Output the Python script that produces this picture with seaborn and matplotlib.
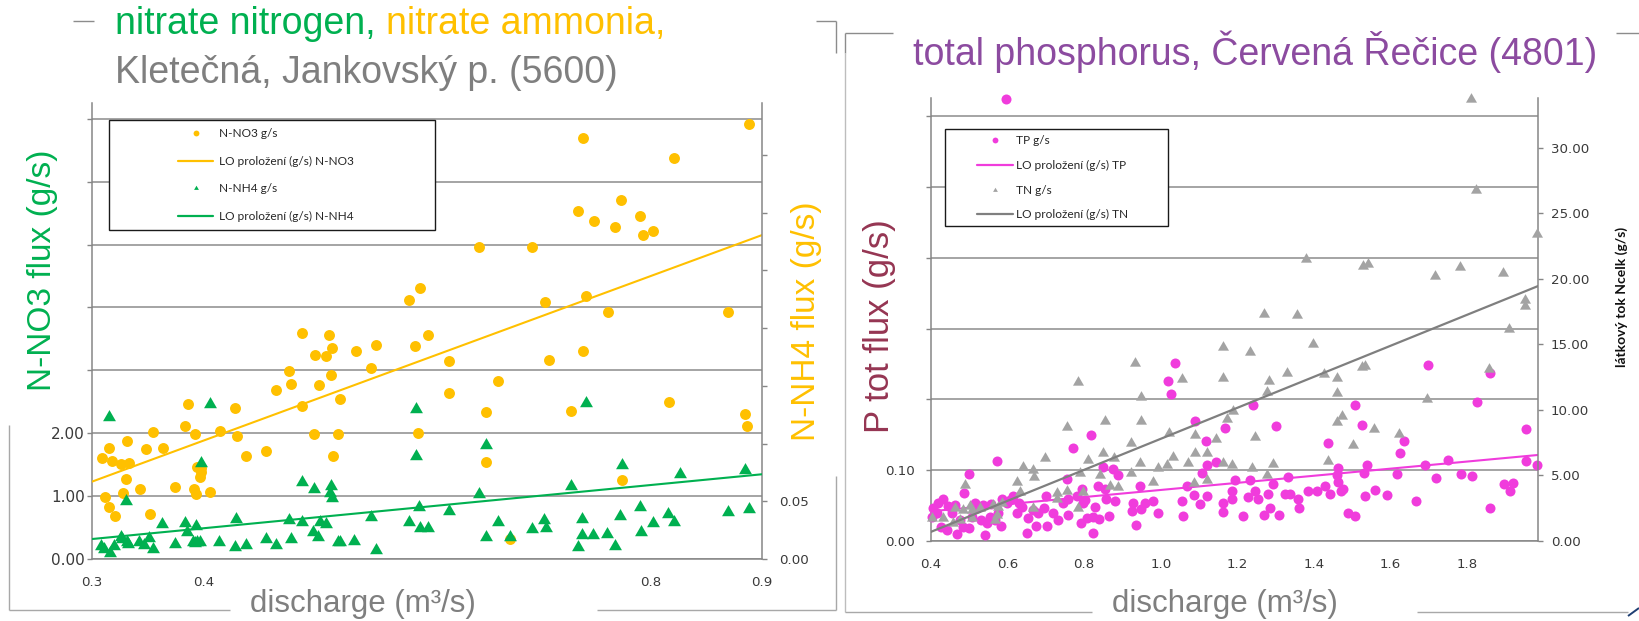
import numpy as np
import matplotlib
matplotlib.use("Agg")
import matplotlib.pyplot as plt
from matplotlib.lines import Line2D
from matplotlib.patches import Rectangle
import seaborn as sns

# ---------------- Kletečná, Jankovský p. (5600) ----------------
no3_q = [0.309, 0.315, 0.318, 0.326, 0.331, 0.333, 0.330, 0.312, 0.315, 0.321,
         0.328, 0.343, 0.348, 0.352, 0.355, 0.364, 0.383, 0.386, 0.374, 0.392,
         0.391, 0.393, 0.394, 0.398, 0.397, 0.398, 0.406, 0.415, 0.428, 0.430,
         0.438, 0.456, 0.465, 0.476, 0.478, 0.488, 0.499, 0.500, 0.503, 0.510,
         0.514, 0.515, 0.520, 0.516, 0.522, 0.536, 0.550, 0.554, 0.589, 0.592,
         0.620, 0.620, 0.664, 0.653, 0.653, 0.709, 0.740, 0.729, 0.674, 0.817,
         0.885, 0.887, 0.775, 0.888, 0.740, 0.821, 0.735, 0.750, 0.774, 0.768,
         0.791, 0.793, 0.802, 0.647, 0.694, 0.584, 0.594, 0.706, 0.742, 0.762,
         0.870, 0.601, 0.488, 0.512]
no3_flux = [1.60, 1.76, 1.56, 1.51, 1.87, 1.53, 1.27, 0.99, 0.82, 0.69,
            1.05, 1.11, 1.75, 0.72, 2.02, 1.76, 2.12, 2.46, 1.15, 1.98,
            1.12, 1.03, 1.46, 1.45, 1.31, 1.39, 1.07, 2.04, 2.40, 1.96,
            1.64, 1.72, 2.69, 2.99, 2.79, 2.44, 1.98, 3.25, 2.76, 3.23,
            2.92, 3.35, 1.98, 1.63, 2.54, 3.31, 3.03, 3.40, 3.38, 2.00,
            3.15, 2.64, 2.83, 2.34, 1.54, 3.17, 3.31, 2.36, 0.32, 2.49,
            2.30, 2.12, 1.25, 6.92, 6.70, 6.38, 5.54, 5.38, 5.71, 5.28,
            5.46, 5.15, 5.21, 4.96, 4.96, 4.12, 4.31, 4.08, 4.18, 3.92,
            3.92, 3.56, 3.59, 3.56]

nh4_q = [0.315, 0.308, 0.311, 0.316, 0.320, 0.326, 0.327, 0.330, 0.331, 0.332,
         0.342, 0.347, 0.351, 0.355, 0.363, 0.374, 0.383, 0.385, 0.393, 0.390,
         0.392, 0.394, 0.397, 0.398, 0.406, 0.414, 0.429, 0.428, 0.438, 0.456,
         0.465, 0.476, 0.478, 0.488, 0.488, 0.499, 0.498, 0.502, 0.504, 0.510,
         0.514, 0.513, 0.515, 0.520, 0.522, 0.535, 0.550, 0.554, 0.590, 0.590,
         0.593, 0.584, 0.594, 0.601, 0.620, 0.647, 0.653, 0.653, 0.664, 0.674,
         0.694, 0.705, 0.707, 0.729, 0.735, 0.739, 0.739, 0.749, 0.742, 0.761,
         0.768, 0.773, 0.775, 0.791, 0.792, 0.802, 0.816, 0.821, 0.827, 0.870,
         0.885, 0.888]
nh4_flux = [0.123, 0.011, 0.009, 0.005, 0.011, 0.019, 0.017, 0.050, 0.015, 0.013,
            0.015, 0.012, 0.018, 0.009, 0.030, 0.013, 0.031, 0.023, 0.029, 0.015,
            0.014, 0.015, 0.0145, 0.083, 0.134, 0.015, 0.035, 0.010, 0.012, 0.017,
            0.012, 0.034, 0.017, 0.032, 0.067, 0.061, 0.023, 0.019, 0.032, 0.030,
            0.063, 0.057, 0.053, 0.0145, 0.0145, 0.016, 0.036, 0.008, 0.130, 0.089,
            0.045, 0.032, 0.027, 0.027, 0.042, 0.056, 0.099, 0.019, 0.032, 0.019,
            0.026, 0.034, 0.027, 0.063, 0.010, 0.035, 0.021, 0.021, 0.135, 0.022,
            0.011, 0.037, 0.081, 0.045, 0.023, 0.031, 0.039, 0.032, 0.074, 0.041,
            0.077, 0.043]

no3_trend_q = [0.3, 0.9]
no3_trend = [1.23, 5.15]
nh4_trend_q = [0.3, 0.9]
nh4_trend = [0.0173, 0.0734]

# tick positions and the labels left readable on the slide
left_x_ticks = [0.3, 0.4, 0.5, 0.6, 0.7, 0.8, 0.9]
left_x_labels = ["0.3", "0.4", "", "", "", "0.8", "0.9"]
no3_ticks = [0, 1, 2, 3, 4, 5, 6, 7]
no3_labels = ["0.00", "1.00", "2.00", "", "", "", "", ""]
nh4_ticks = [0, 0.05, 0.10, 0.15, 0.20, 0.25, 0.30, 0.35]
nh4_labels = ["0.00", "0.05", "", "", "", "", "", ""]

# ---------------- Červená Řečice (4801) ----------------
tp_q = [0.596, 1.037, 1.020, 1.026, 1.089, 1.168, 1.117, 0.818, 0.770, 0.573,
        0.500, 0.487, 1.144, 1.120, 1.107, 0.754, 0.887, 0.874, 0.850, 0.946,
        0.835, 0.854, 1.068, 1.087, 1.102, 1.120, 1.194, 1.185, 1.055, 1.057,
        0.993, 0.980, 0.959, 0.948, 0.928, 0.924, 0.935, 0.864, 0.857, 0.880,
        0.828, 0.824, 0.839, 0.822, 0.798, 0.802, 0.793, 0.780, 0.791, 0.807,
        0.758, 0.745, 0.758, 0.732, 0.719, 0.700, 0.702, 0.680, 0.674, 0.667,
        0.652, 0.650, 0.637, 0.631, 0.613, 0.606, 0.585, 0.583, 0.567, 0.554,
        0.541, 0.545, 0.530, 0.519, 0.515, 0.506, 0.500, 0.484, 0.476, 0.467,
        0.463, 0.454, 0.441, 0.431, 0.425, 0.415, 0.406, 0.402, 0.419, 0.445,
        0.556, 0.537, 0.576, 0.598, 0.624, 0.696,
        1.507, 1.698, 1.825, 1.860, 1.242, 1.301, 1.437, 1.525, 1.625, 1.636,
        1.954, 1.954, 1.982, 1.751, 1.690, 1.616, 1.719, 1.783, 1.812, 1.538,
        1.531, 1.463, 1.461, 1.463, 1.475, 1.470, 1.429, 1.442, 1.407, 1.385,
        1.359, 1.362, 1.337, 1.324, 1.331, 1.292, 1.281, 1.285, 1.270, 1.309,
        1.233, 1.246, 1.255, 1.228, 1.214, 1.185, 1.163, 1.163, 1.533, 1.559,
        1.590, 1.666, 1.490, 1.507, 1.860, 1.897, 1.919, 1.912]
tp_flux = [0.624, 0.252, 0.226, 0.208, 0.169, 0.159, 0.141, 0.150, 0.132, 0.113,
           0.095, 0.068, 0.111, 0.107, 0.096, 0.087, 0.093, 0.101, 0.105, 0.078,
           0.078, 0.074, 0.077, 0.065, 0.052, 0.063, 0.086, 0.070, 0.057, 0.035,
           0.039, 0.056, 0.053, 0.045, 0.054, 0.043, 0.023, 0.035, 0.059, 0.057,
           0.048, 0.034, 0.031, 0.012, 0.053, 0.058, 0.073, 0.063, 0.025, 0.033,
           0.060, 0.053, 0.037, 0.030, 0.039, 0.064, 0.021, 0.039, 0.021, 0.044,
           0.032, 0.012, 0.048, 0.053, 0.064, 0.058, 0.060, 0.021, 0.030, 0.034,
           0.008, 0.026, 0.030, 0.046, 0.053, 0.034, 0.019, 0.020, 0.030, 0.010,
           0.051, 0.039, 0.015, 0.059, 0.020, 0.039, 0.046, 0.034, 0.053, 0.049,
           0.052, 0.051, 0.039, 0.053, 0.040, 0.046,
           0.192, 0.249, 0.196, 0.237, 0.192, 0.162, 0.139, 0.164, 0.124, 0.141,
           0.158, 0.113, 0.107, 0.115, 0.107, 0.094, 0.089, 0.094, 0.092, 0.107,
           0.096, 0.103, 0.093, 0.084, 0.074, 0.070, 0.077, 0.066, 0.071, 0.071,
           0.059, 0.046, 0.066, 0.066, 0.091, 0.081, 0.066, 0.046, 0.037, 0.037,
           0.086, 0.070, 0.059, 0.062, 0.035, 0.059, 0.053, 0.041, 0.063, 0.072,
           0.065, 0.056, 0.040, 0.035, 0.046, 0.081, 0.082, 0.070]

tn_q = [1.163, 0.933, 1.163, 1.055, 0.785, 0.948, 0.854, 0.948, 0.754, 1.172,
        1.089, 1.144, 0.922, 1.021, 0.698, 0.811, 0.850, 0.878, 1.033, 1.089,
        1.120, 0.639, 0.667, 0.946, 1.070, 1.015, 0.993, 1.163, 1.185, 0.670,
        0.624, 0.789, 0.841, 0.921, 0.980, 1.087, 1.120, 0.867, 0.887, 0.632,
        0.728, 0.754, 0.798, 0.728, 0.489, 0.463, 0.484, 0.506, 0.502, 0.528,
        0.563, 0.585, 0.576, 0.572, 0.402, 0.432, 0.458, 0.476, 0.667, 0.785,
        0.506, 0.567, 1.233, 1.398, 1.329, 1.283, 1.277, 1.426, 1.461, 1.459,
        1.525, 1.533, 1.188, 1.472, 1.461, 1.246, 1.557, 1.503, 1.623, 1.436,
        1.237, 1.292, 1.277, 1.694, 1.858, 1.809, 1.823, 1.983, 1.378, 1.529,
        1.540, 1.716, 1.781, 1.894, 1.951, 1.951, 1.910, 1.269, 1.356]
tn_flux = [14.79, 13.61, 12.47, 12.34, 12.16, 11.02, 9.16, 9.16, 8.73, 9.29,
           8.09, 7.76, 7.46, 8.22, 6.31, 6.18, 6.74, 6.36, 6.44, 6.69,
           6.69, 5.62, 5.42, 5.93, 5.93, 5.80, 5.55, 5.93, 5.80, 4.86,
           4.53, 5.17, 5.04, 5.21, 4.53, 4.40, 4.66, 4.22, 4.15, 3.76,
           3.64, 3.84, 3.76, 3.18, 4.27, 2.50, 2.37, 2.37, 2.69, 2.50,
           2.75, 2.88, 2.62, 1.98, 1.73, 1.73, 1.35, 1.60, 2.50, 2.50,
           1.73, 1.60, 14.45, 15.04, 12.85, 12.21, 11.35, 12.72, 12.42, 11.32,
           13.31, 13.36, 9.92, 9.54, 9.06, 7.92, 8.53, 7.33, 8.17, 6.13,
           5.55, 5.88, 5.04, 10.82, 13.11, 33.74, 26.79, 23.44, 21.53, 20.99,
           21.12, 20.23, 20.94, 20.44, 18.40, 17.96, 16.16, 17.33, 17.25]

tp_trend_q = [0.4, 1.985]
tp_trend = [0.042, 0.1215]
tn_trend_q = [0.4, 1.985]
tn_trend = [0.70, 19.45]

right_x_ticks = [0.4, 0.6, 0.8, 1.0, 1.2, 1.4, 1.6, 1.8]
right_x_labels = ["0.4", "0.6", "0.8", "1.0", "1.2", "1.4", "1.6", "1.8"]
tp_ticks = [0.0, 0.1, 0.2, 0.3, 0.4, 0.5, 0.6]
tp_labels = ["0.00", "0.10", "", "", "", "", ""]
tn_ticks = [0, 5, 10, 15, 20, 25, 30]
tn_labels = ["0.00", "5.00", "10.00", "15.00", "20.00", "25.00", "30.00"]

# ---------------- colours ----------------
ORANGE = "#FFC000"
GREEN = "#00B050"
PINK = "#F03CDC"
GREY_PT = "#A3A3A3"
GREY_LN = "#7F7F7F"
TXT_GREY = "#7F7F7F"
PURPLE = "#8C4BA0"
MAROON = "#953552"
AXC = "#868686"
GRIDC = "#8C8C8C"
TICKTXT = "#3A3A3A"

W, H, DPI = 1639, 621, 100
sns.set_theme(style="white")
plt.rcParams["font.family"] = ["DejaVu Sans"]

fig = plt.figure(figsize=(W / DPI, H / DPI), dpi=DPI)
fig.patch.set_facecolor("white")


def fx(px):
    return px / W


def fy(py):
    return 1 - py / H


def rect(l, t, r, b):
    return [fx(l), fy(b), (r - l) / W, (b - t) / H]


def style_axes(ax, visible):
    for name, sp in ax.spines.items():
        sp.set_visible(name in visible)
        sp.set_color(AXC)
        sp.set_linewidth(1.1)
    ax.tick_params(which="both", direction="out", length=3.6, width=1.0,
                   color=AXC, labelcolor=TICKTXT, labelsize=9.6)
    ax.set_xlabel("")
    ax.set_ylabel("")


TRI = (3, 0, 0)

# ---------------- left chart ----------------
axL = fig.add_axes(rect(92, 103, 762, 559))
axL2 = axL.twinx()
axL.set_facecolor("white")

axL.yaxis.grid(True, color=GRIDC, linewidth=1.1)
axL.xaxis.grid(False)
axL.set_axisbelow(True)

sns.scatterplot(x=no3_q, y=no3_flux, ax=axL, color=ORANGE, s=62, linewidth=0,
                clip_on=False, zorder=3, legend=False)
sns.lineplot(x=no3_trend_q, y=no3_trend, ax=axL, color=ORANGE, linewidth=1.5,
             zorder=4)
sns.scatterplot(x=nh4_q, y=nh4_flux, ax=axL2, color=GREEN, marker=TRI, s=115,
                linewidth=0, clip_on=False, zorder=3, legend=False)
sns.lineplot(x=nh4_trend_q, y=nh4_trend, ax=axL2, color=GREEN, linewidth=1.5,
             zorder=4)

axL.set_xlim(0.3, 0.9)
axL.set_ylim(0, 7.25)
axL2.set_ylim(0, 0.395)
axL.set_xticks(left_x_ticks, left_x_labels)
axL.set_yticks(no3_ticks, no3_labels)
axL2.set_yticks(nh4_ticks, nh4_labels)
style_axes(axL, ("left", "bottom"))
style_axes(axL2, ("right",))
axL.tick_params(axis="x", pad=9)
axL.tick_params(axis="y", pad=1.5, labelsize=11)
axL2.tick_params(axis="y", pad=8.5)

# ---------------- right chart ----------------
axP = fig.add_axes(rect(931, 98, 1538, 541))
axN = axP.twinx()
axP.set_facecolor("white")
axP.yaxis.grid(True, color=GRIDC, linewidth=1.1)
axP.xaxis.grid(False)
axP.set_axisbelow(True)

sns.scatterplot(x=tp_q, y=tp_flux, ax=axP, color=PINK, s=52, linewidth=0,
                clip_on=False, zorder=3, legend=False)
sns.lineplot(x=tp_trend_q, y=tp_trend, ax=axP, color=PINK, linewidth=1.5,
             zorder=4)
sns.scatterplot(x=tn_q, y=tn_flux, ax=axN, color=GREY_PT, marker=TRI, s=84,
                linewidth=0, clip_on=False, zorder=3, legend=False)
sns.lineplot(x=tn_trend_q, y=tn_trend, ax=axN, color=GREY_LN, linewidth=1.6,
             zorder=4)

axP.set_xlim(0.4, 1.985)
axP.set_ylim(0, 0.6257)
axN.set_ylim(0, 33.8)
axP.set_xticks(right_x_ticks, right_x_labels)
axP.set_yticks(tp_ticks, tp_labels)
axN.set_yticks(tn_ticks, tn_labels)
style_axes(axP, ("left", "bottom"))
style_axes(axN, ("right",))
axP.tick_params(axis="x", pad=8.5)
axP.tick_params(axis="y", pad=8)
axN.tick_params(axis="y", pad=5.8)

# ---------------- slide decorations: chart frames ----------------
def seg(x0, y0, x1, y1, color="#A8A8A8", lw=1.0, z=25):
    fig.add_artist(Line2D([fx(x0), fx(x1)], [fy(y0), fy(y1)],
                          transform=fig.transFigure, color=color, lw=lw,
                          zorder=z, solid_capstyle="butt"))


# frame of the left chart
seg(73, 21, 94, 21, "#8C8C8C")
seg(816, 21, 836, 21, "#8C8C8C")
seg(836, 21, 836, 53, "#8C8C8C")
seg(836, 476, 836, 610)
seg(9, 425, 9, 610)
seg(9, 610, 230, 610)
seg(597, 610, 836, 610)
# frame of the right chart
seg(845, 33, 893, 33, "#8C8C8C")
seg(845, 33, 845, 53, "#8C8C8C")
seg(845, 53, 845, 612, "#BDBDBD")
seg(845, 612, 1092, 612)
seg(1417, 612, 1628, 612)
seg(1616, 33, 1639, 33, "#8C8C8C")
seg(1628, 616, 1639, 608, "#1F3F73", lw=1.4)

# ---------------- legends ----------------
LEG_FONT = ["Lato", "DejaVu Sans"]


def legend_box(l, t, r, b, rows, line_x0, line_x1, text_x):
    fig.add_artist(Rectangle((fx(l), fy(b)), (r - l) / W, (b - t) / H,
                             transform=fig.transFigure, facecolor="white",
                             edgecolor="#1A1A1A", linewidth=1.0, zorder=22))
    mx = (line_x0 + line_x1) / 2
    for y, kind, color, label in rows:
        if kind == "line":
            fig.add_artist(Line2D([fx(line_x0), fx(line_x1)], [fy(y), fy(y)],
                                  transform=fig.transFigure, color=color,
                                  lw=1.6, zorder=23))
        elif kind == "circle":
            fig.add_artist(Line2D([fx(mx)], [fy(y)], transform=fig.transFigure,
                                  marker="o", markersize=4.2, color=color,
                                  markeredgewidth=0, linestyle="none",
                                  zorder=23))
        else:
            fig.add_artist(Line2D([fx(mx)], [fy(y)], transform=fig.transFigure,
                                  marker=TRI, markersize=4.0, color=color,
                                  markeredgewidth=0, linestyle="none",
                                  zorder=23))
        fig.text(fx(text_x), fy(y), label, fontsize=8.6, color="#262626",
                 family=LEG_FONT, va="center", ha="left", zorder=24)


legend_box(109, 120, 435, 230,
           [(133, "circle", ORANGE, "N-NO3 g/s"),
            (161, "line", ORANGE, "LO proložení (g/s) N-NO3"),
            (188, "tri", GREEN, "N-NH4 g/s"),
            (216, "line", GREEN, "LO proložení (g/s) N-NH4")],
           178, 213, 219)
legend_box(945, 129, 1168, 226,
           [(140, "circle", PINK, "TP g/s"),
            (165, "line", PINK, "LO proložení (g/s) TP"),
            (190, "tri", GREY_PT, "TN g/s"),
            (214, "line", GREY_LN, "LO proložení (g/s) TN")],
           977, 1013, 1016)

# ---------------- titles and axis captions ----------------
BIG = ["Liberation Sans", "DejaVu Sans"]
renderer = fig.canvas.get_renderer()

t1 = fig.text(fx(115), fy(34), "nitrate nitrogen, ", color=GREEN,
              fontsize=27, family=BIG, va="baseline", ha="left", zorder=30)
bb = t1.get_window_extent(renderer)
fig.text(bb.x1 / W, fy(34), "nitrate ammonia,", color=ORANGE,
         fontsize=27, family=BIG, va="baseline", ha="left", zorder=30)
fig.text(fx(115), fy(83), "Kletečná, Jankovský p. (5600)", color=TXT_GREY,
         fontsize=27, family=BIG, va="baseline", ha="left", zorder=30)
fig.text(fx(913), fy(65), "total phosphorus, Červená Řečice (4801)",
         color=PURPLE, fontsize=27, family=BIG, va="baseline", ha="left",
         zorder=30)

fig.text(fx(43), fy(270), "N-NO3 flux (g/s)", color=GREEN, fontsize=24,
         family=BIG, rotation=90, ha="center", va="center", zorder=30)
fig.text(fx(807), fy(321), "N-NH4 flux (g/s)", color=ORANGE, fontsize=24,
         family=BIG, rotation=90, ha="center", va="center", zorder=30)
fig.text(fx(880), fy(326), "P tot flux (g/s)", color=MAROON, fontsize=25,
         family=BIG, rotation=90, ha="center", va="center", zorder=30)
fig.text(fx(1622), fy(297), "látkový tok Ncelk (g/s)", color="#111111",
         fontsize=10, family=LEG_FONT, fontweight="bold", rotation=90,
         ha="center", va="center", zorder=30)

fig.text(fx(250), fy(612), "discharge (m³/s)", color=TXT_GREY, fontsize=22.5,
         family=BIG, va="baseline", ha="left", zorder=30)
fig.text(fx(1112), fy(612), "discharge (m³/s)", color=TXT_GREY, fontsize=22.5,
         family=BIG, va="baseline", ha="left", zorder=30)

fig.savefig("out.png", dpi=DPI, facecolor="white")
